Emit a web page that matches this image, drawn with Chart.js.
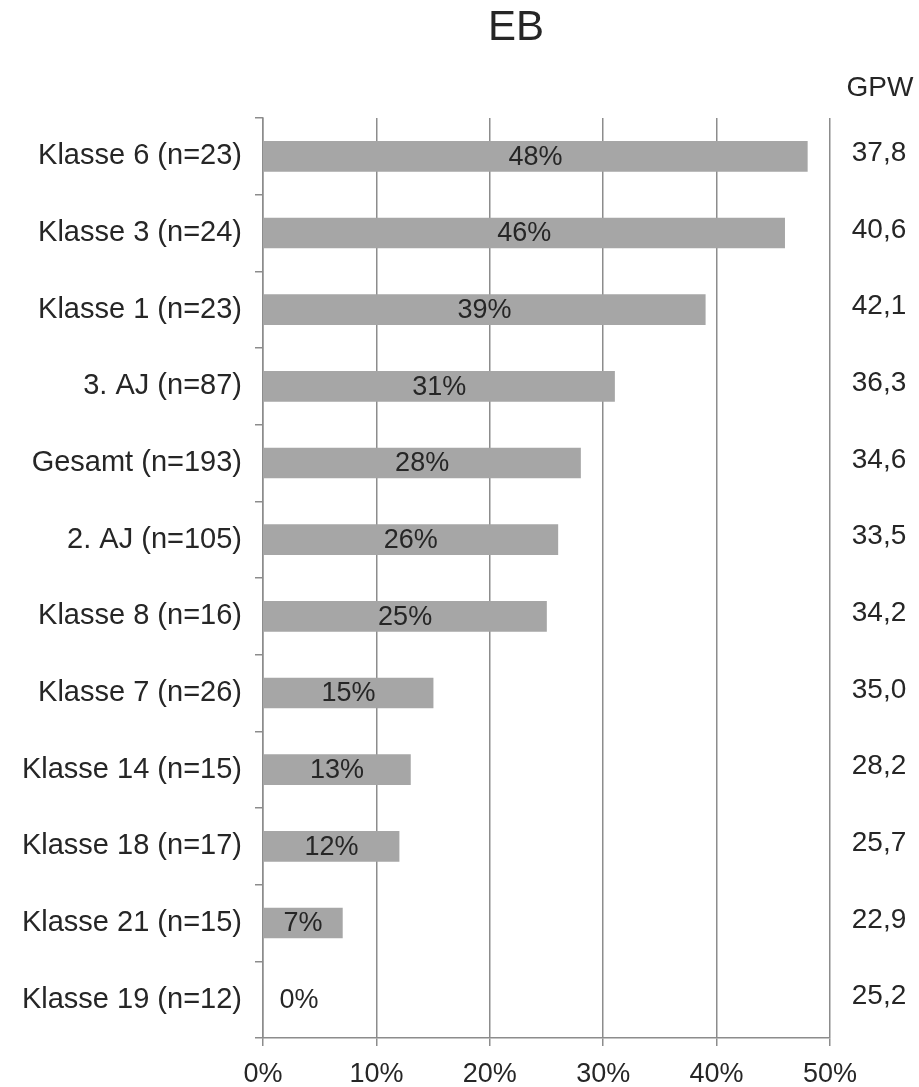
<!DOCTYPE html>
<html>
<head>
<meta charset="utf-8">
<script src="https://cdn.jsdelivr.net/npm/chart.js@4.4.1/dist/chart.umd.min.js"></script>
<style>
  html, body { margin: 0; padding: 0; background: #fff; }
  #wrap { width: 919px; height: 1087px; }
</style>
</head>
<body>
<div id="wrap"><canvas id="graph"></canvas></div>
<script>
const categories = ['Klasse 6 (n=23)', 'Klasse 3 (n=24)', 'Klasse 1 (n=23)', '3. AJ (n=87)',
  'Gesamt (n=193)', '2. AJ (n=105)', 'Klasse 8 (n=16)', 'Klasse 7 (n=26)',
  'Klasse 14 (n=15)', 'Klasse 18 (n=17)', 'Klasse 21 (n=15)', 'Klasse 19 (n=12)'];
const shares = [48, 46, 39, 31, 28, 26, 25, 15, 13, 12, 7, 0];
const gpw = ['37,8', '40,6', '42,1', '36,3', '34,6', '33,5', '34,2', '35,0', '28,2', '25,7', '22,9', '25,2'];
const xTicks = [0, 10, 20, 30, 40, 50];

const textColor = '#262626';
const font = 'Liberation Sans, Arial, sans-serif';

// draws title, percent labels in the bars and the GPW column
const extras = {
  id: 'extras',
  afterDatasetsDraw(chart) {
    const c = chart.ctx;
    const area = chart.chartArea;
    const yScale = chart.scales.y;
    const meta = chart.getDatasetMeta(0);
    c.save();
    c.fillStyle = textColor;
    c.textBaseline = 'middle';

    c.font = '42px ' + font;
    c.textAlign = 'center';
    c.fillText('EB', 516, 28);

    c.font = '27px ' + font;
    meta.data.forEach(function(bar, i) {
      const v = shares[i];
      const x = v > 0 ? (bar.base + bar.x) / 2 : area.left + 36;
      c.fillText(v + '%', x, bar.y + 1);
    });

    c.font = '28px ' + font;
    c.fillText('GPW', 880, 88);
    gpw.forEach(function(g, i) {
      c.fillText(g, 879, yScale.getPixelForValue(i) - 3);
    });
    c.restore();
  }
};

const chartx = new Chart(document.getElementById('graph').getContext('2d'), {
  type: 'bar',
  data: {
    labels: categories,
    datasets: [{
      data: shares,
      backgroundColor: '#a6a6a6',
      borderWidth: 0,
      barThickness: 30,
    }],
  },
  options: {
    indexAxis: 'y',
    responsive: true,
    maintainAspectRatio: false,
    animation: false,
    layout: { padding: { top: 118, right: 89, left: 0, bottom: 0 } },
    plugins: {
      legend: { display: false },
      title: { display: false },
      tooltip: { enabled: false },
    },
    scales: {
      x: {
        min: 0,
        max: 50,
        afterBuildTicks(scale) {
          scale.ticks = xTicks.map(v => ({ value: v }));
        },
        afterFit(scale) { scale.height = 49; },
        ticks: {
          color: textColor,
          font: { family: font, size: 27 },
          padding: 12,
          maxRotation: 0,
          callback: v => v + '%',
        },
        grid: { color: '#8c8c8c', lineWidth: 1.5, tickLength: 8 },
        border: { color: '#8c8c8c', width: 1.5 },
      },
      y: {
        afterFit(scale) { scale.width = 263; },
        ticks: {
          color: textColor,
          font: { family: font, size: 29 },
          padding: 13,
        },
        grid: { drawOnChartArea: false, color: '#8c8c8c', lineWidth: 1.5, tickLength: 8, offset: true },
        border: { color: '#8c8c8c', width: 1.5 },
      },
    },
  },
  plugins: [extras],
});
</script>
</body>
</html>
